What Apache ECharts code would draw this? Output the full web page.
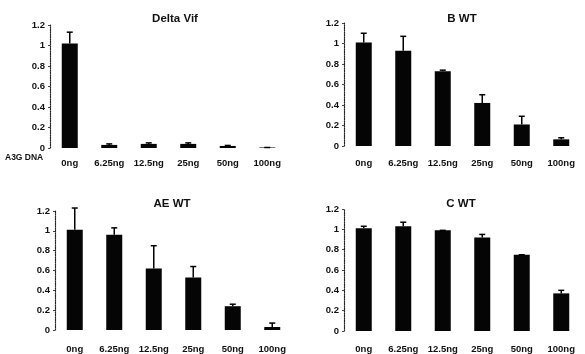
<!DOCTYPE html>
<html>
<head>
<meta charset="utf-8">
<script src="https://cdn.jsdelivr.net/npm/echarts@6/dist/echarts.min.js"></script>
<style>
  html, body { margin: 0; padding: 0; background: #fff; }
  #chart { width: 585px; height: 354px; }
</style>
</head>
<body>
<div id="chart"></div>
<script>
var categories = ['0ng', '6.25ng', '12.5ng', '25ng', '50ng', '100ng'];

// mean values and upper end of the error bar, per panel
var deltaVif = [1.02, 0.03, 0.04, 0.04, 0.02, 0.005];
var deltaVifErr = [1.13, 0.04, 0.05, 0.05, 0.025, 0.005];
var bWt = [1.01, 0.93, 0.73, 0.42, 0.21, 0.065];
var bWtErr = [1.10, 1.07, 0.74, 0.50, 0.29, 0.08];
var aeWt = [1.01, 0.96, 0.62, 0.53, 0.24, 0.03];
var aeWtErr = [1.23, 1.03, 0.85, 0.64, 0.26, 0.07];
var cWt = [1.01, 1.03, 0.99, 0.92, 0.75, 0.37];
var cWtErr = [1.03, 1.07, 0.99, 0.95, 0.75, 0.40];

var panels = [
    { title: 'Delta Vif', vals: deltaVif, err: deltaVifErr, left: 50, top: 25, bottom: 148, tx: 170, ty: 8, lm: 10 },
    { title: 'B WT', vals: bWt, err: bWtErr, left: 344, top: 23, bottom: 146, tx: 457, ty: 8, lm: 12 },
    { title: 'AE WT', vals: aeWt, err: aeWtErr, left: 55, top: 211, bottom: 331, tx: 167, ty: 193, lm: 14 },
    { title: 'C WT', vals: cWt, err: cWtErr, left: 344, top: 209, bottom: 332, tx: 456, ty: 193, lm: 13 }
];

var font = 'Liberation Sans';
var grids = [], xAxes = [], yAxes = [], series = [], titles = [];

panels.forEach(function (p, k) {
    grids.push({ left: p.left, width: 237, top: p.top, height: p.bottom - p.top });
    titles.push({
        text: p.title, left: p.tx, top: p.ty, textAlign: 'center',
        textStyle: { fontFamily: font, fontSize: 11.5, fontWeight: 'bold', color: '#111' }
    });
    xAxes.push({
        type: 'category', gridIndex: k, data: categories,
        axisLine: { show: false }, axisTick: { show: false },
        axisLabel: { margin: p.lm, fontFamily: font, fontSize: 9.5, fontWeight: 'bold', color: '#111', interval: 0 }
    });
    yAxes.push({
        type: 'value', gridIndex: k, min: 0, max: 1.2, interval: 0.2,
        splitLine: { show: false },
        axisLine: { show: true, lineStyle: { color: '#222', type: 'dotted', width: 1.2 } },
        axisTick: { show: true, length: 2, lineStyle: { color: '#444' } },
        axisLabel: {
            margin: 5, fontFamily: font, fontSize: 9.5, fontWeight: 'bold', color: '#111',
            formatter: function (v) { return String(Math.round(v * 10) / 10); }
        }
    });
    series.push({
        type: 'bar', xAxisIndex: k, yAxisIndex: k, data: p.vals,
        barWidth: 16, itemStyle: { color: '#050505' }
    });
    series.push({
        type: 'custom', xAxisIndex: k, yAxisIndex: k, z: 3,
        data: p.vals.map(function (v, i) { return [i, v, p.err[i]]; }),
        encode: { x: 0, y: [1, 2] },
        renderItem: function (params, api) {
            var base = api.coord([api.value(0), api.value(1)]);
            var top = api.coord([api.value(0), api.value(2)]);
            var st = { stroke: '#000', lineWidth: 1.5 };
            return {
                type: 'group',
                children: [
                    { type: 'line', shape: { x1: base[0], y1: base[1], x2: top[0], y2: top[1] }, style: st },
                    { type: 'line', shape: { x1: top[0] - 3, y1: top[1], x2: top[0] + 3, y2: top[1] }, style: st }
                ]
            };
        }
    });
});

var chart = echarts.init(document.getElementById('chart'));
chart.setOption({
    animation: false,
    backgroundColor: '#fff',
    title: titles,
    grid: grids,
    xAxis: xAxes,
    yAxis: yAxes,
    series: series,
    graphic: [{
        type: 'text', left: 5, top: 153,
        style: { text: 'A3G DNA', fontFamily: font, fontSize: 8.5, fontWeight: 'bold', fill: '#111' }
    }]
});
</script>
</body>
</html>
